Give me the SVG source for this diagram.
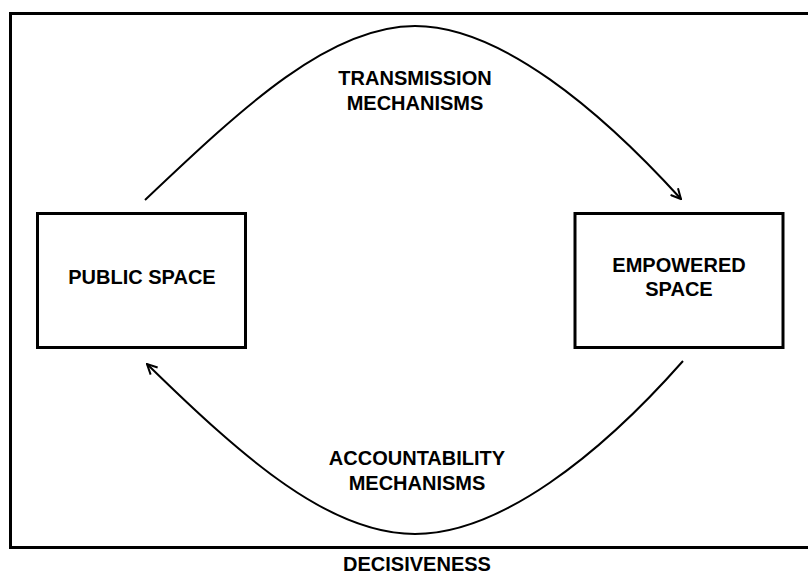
<svg xmlns="http://www.w3.org/2000/svg" width="808" height="575" viewBox="0 0 808 575">
<style>
.box{fill:#fff;stroke:#000;stroke-width:3}
.frame{fill:none;stroke:#000;stroke-width:3}
.edge{fill:none;stroke:#000;stroke-width:2;marker-end:url(#arr)}
text{font-family:"Liberation Sans",Arial,sans-serif;font-weight:bold;font-size:20px;fill:#000;text-anchor:middle}
</style>
<defs>
<marker id="arr" viewBox="0 0 12 12" refX="11" refY="6" markerWidth="12" markerHeight="12" markerUnits="userSpaceOnUse" orient="auto">
<path d="M1,1 L11,6 L1,11" fill="none" stroke="#000" stroke-width="2"/>
</marker>
</defs>
<rect id="frame" class="frame" x="10.5" y="13.5" width="810" height="534"/>
<g id="connectors">
<path id="transmission" class="edge" d="M145,200 C245,105 330,26 415,26 C500,26 600,110 681,199"/>
<path id="accountability" class="edge" d="M683,361 C600,455 500,534 415,534 C330,534 245,460 147,364"/>
</g>
<g id="public-space">
<rect class="box" x="37.5" y="213.5" width="208" height="134"/>
<text x="142" y="284">PUBLIC SPACE</text>
</g>
<g id="empowered-space">
<rect class="box" x="575" y="213.5" width="208" height="134"/>
<text x="679" y="272">EMPOWERED</text>
<text x="679" y="296">SPACE</text>
</g>
<g id="labels">
<text x="415" y="85">TRANSMISSION</text>
<text x="415" y="109.5">MECHANISMS</text>
<text x="417" y="465">ACCOUNTABILITY</text>
<text x="417" y="490">MECHANISMS</text>
<text x="417" y="571">DECISIVENESS</text>
</g>
</svg>
